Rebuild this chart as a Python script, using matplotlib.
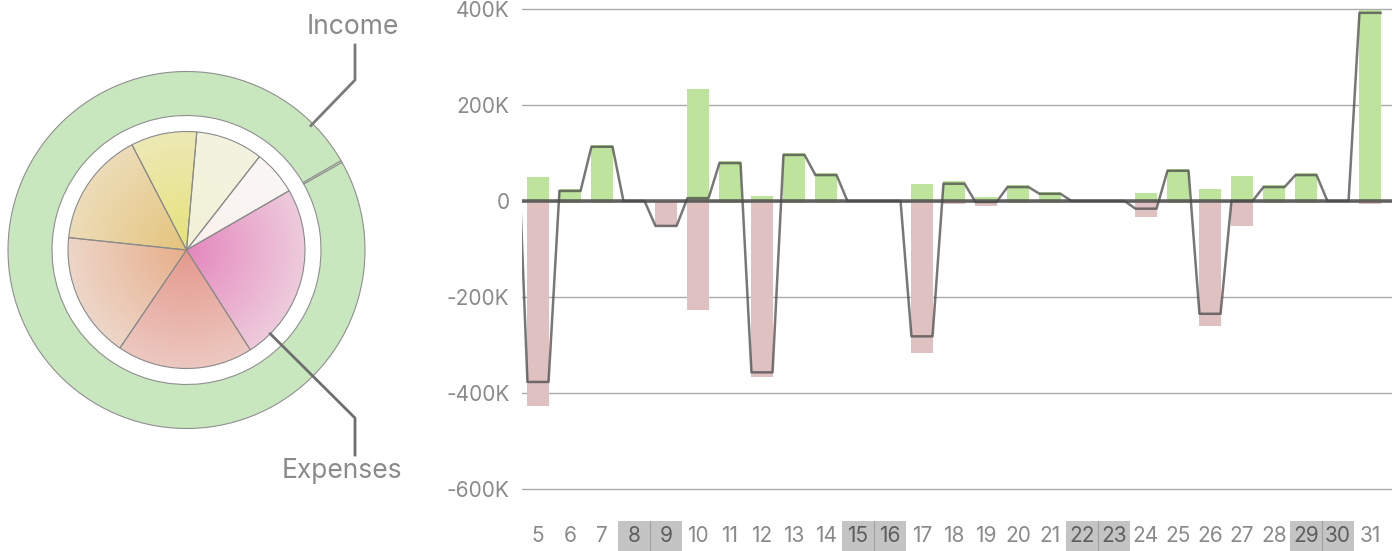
import numpy as np
import matplotlib
matplotlib.use("Agg")
import matplotlib.pyplot as plt
from matplotlib import transforms
from matplotlib.patches import Rectangle
from matplotlib.colors import to_rgb

plt.rcParams['font.family'] = ['Inter', 'DejaVu Sans']

# inner pie: expense categories (shares), outer ring: income sources
expense_shares = [22, 33, 32.4, 56.6, 61.8, 66.8, 87.4]
expense_inner = ['#f9f1ee', '#f2f1d6', '#e6e27a', '#e5c47c', '#e7ae8a', '#e5988c', '#e487bd']
expense_outer = ['#fbf7f5', '#f4f3e0', '#ede9b6', '#ecdcb8', '#edd6c8', '#ecc8c0', '#eecbdc']
income_shares = [359.4, 0.6]
ring_color = '#c9e7bf'

# daily totals in thousands (day 4 is just left of the visible range)
days = list(range(4, 32))
income = [200, 50, 25, 117, 0, 0, 233, 83, 10, 100, 58, 0, 0, 35,
          42, 8, 33, 19, 0, 0, 17, 67, 25, 52, 33, 58, 0, 398]
expense = [0, 427, 4, 4, 0, 52, 227, 4, 367, 4, 4, 0, 0, 317,
           6, 10, 4, 4, 0, 0, 33, 4, 260, 52, 4, 4, 0, 6]
weekends = [8, 9, 15, 16, 22, 23, 29, 30]
yticks = [-600, -400, -200, 0, 200, 400]

green = '#bee39c'
pink = '#dfc1c2'
text_gray = '#8a8a8a'

fig = plt.figure(figsize=(14, 5.51), dpi=100)

# ---------- bar chart ----------
axb = fig.add_axes([522 / 1400, 0.0951, 870 / 1400, 0.906])
bw = 0.66
axb.bar(days, income, width=bw, color=green, zorder=2)
axb.bar(days, [-e for e in expense], width=bw, color=pink, zorder=2)

net = [i - e for i, e in zip(income, expense)]
xs, ys = [], []
for d, v in zip(days, net):
    xs += [d - bw / 2, d + bw / 2]
    ys += [v, v]
axb.plot(xs, ys, color='#4a4a4a', lw=1.8, alpha=0.75, zorder=4)
axb.axhline(0, color='#4d4d4d', lw=2.6, alpha=0.85, zorder=3)

axb.set_xlim(4.5, 4.5 + 870 / 32)
axb.set_ylim(-620, 420)
axb.set_yticks(yticks)
axb.set_yticklabels(['0' if v == 0 else f'{v}K' for v in yticks])
axb.tick_params(axis='y', length=0, pad=9, labelsize=15, labelcolor=text_gray)
axb.set_xticks([])
axb.grid(axis='y', color='#ababab', lw=1.0, zorder=0)
axb.set_axisbelow(True)
for s in axb.spines.values():
    s.set_visible(False)

blend = transforms.blended_transform_factory(axb.transData, fig.transFigure)
for d in days:
    if d < 5:
        continue
    wk = d in weekends
    if wk:
        axb.add_patch(Rectangle((d - 0.5, 0), 1, 30 / 551, transform=blend,
                                facecolor='#c4c4c4', edgecolor='none', clip_on=False, zorder=1))
        if d + 1 in weekends:
            axb.plot([d + 0.5, d + 0.5], [0, 30 / 551], transform=blend, color='#a0a0a0',
                     lw=0.8, clip_on=False, zorder=2)
    axb.text(d, 15 / 551, str(d), transform=blend, ha='center', va='center',
             fontsize=15, color='#5e5e5e' if wk else text_gray)

# ---------- pie + ring ----------
axp = fig.add_axes([0, 0, 380 / 1400, 1])
cx, cy = 186.5, 301
R = 118.5
axp.pie(income_shares, radius=178.5, center=(cx, cy), startangle=30,
        colors=[ring_color] * len(income_shares), frame=True,
        wedgeprops=dict(width=44, edgecolor='#8f8f8f', linewidth=0.8))
wedges, _ = axp.pie(expense_shares, radius=R, center=(cx, cy), startangle=30, frame=True,
                    wedgeprops=dict(facecolor='none', edgecolor='#8a8a8a', linewidth=0.8))

g = np.linspace(-1, 1, 300)
gx, gy = np.meshgrid(g, g)
t = np.clip(np.hypot(gx, gy), 0, 1)[..., None]
for w, c0, c1 in zip(wedges, expense_inner, expense_outer):
    img = np.array(to_rgb(c0)) * (1 - t) + np.array(to_rgb(c1)) * t
    im = axp.imshow(img, extent=(cx - R, cx + R, cy - R, cy + R), origin='lower',
                    zorder=0.5, interpolation='bilinear')
    im.set_clip_path(w)

# callouts
a45 = np.deg2rad(45)
ix, iy = cx + 176 * np.cos(a45), cy + 176 * np.sin(a45)
axp.plot([ix, 355, 355], [iy, 471, 506], color='#7a7a7a', lw=2, zorder=5)
axp.text(353, 524, 'Income', ha='center', va='center', fontsize=19, color=text_gray)

ex, ey = cx + R * np.cos(-a45), cy + R * np.sin(-a45)
axp.plot([ex, 355, 355], [ey, 133, 96], color='#6e6e6e', lw=2, zorder=5)
axp.text(342, 80, 'Expenses', ha='center', va='center', fontsize=19, color=text_gray)

axp.set_xlim(0, 380)
axp.set_ylim(0, 551)
axp.axis('off')

fig.savefig('out.png', dpi=100)
